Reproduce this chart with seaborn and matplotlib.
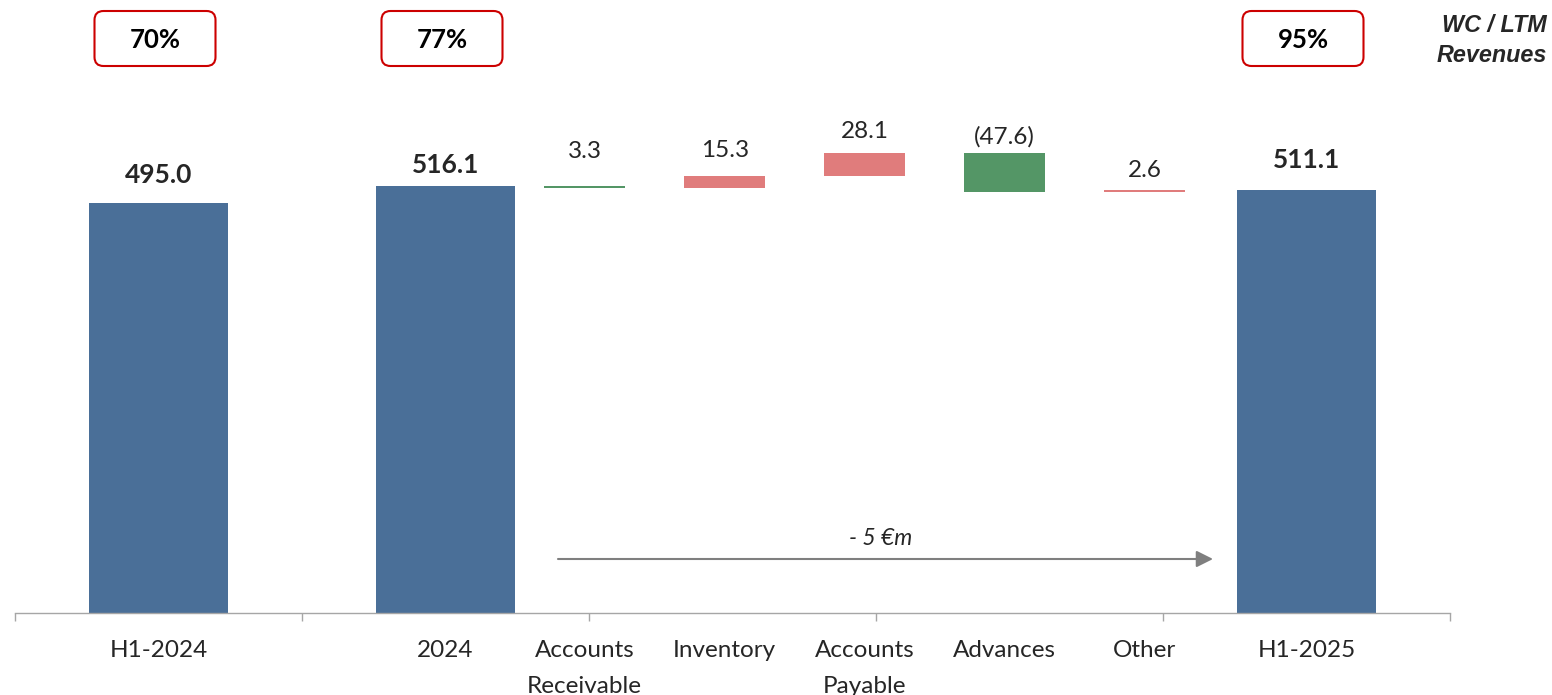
import numpy as np
import pandas as pd
import matplotlib
matplotlib.use("Agg")
import matplotlib.pyplot as plt
from matplotlib.patches import FancyBboxPatch
from matplotlib.transforms import Affine2D
from matplotlib.ticker import NullFormatter
import seaborn as sns

# ---------------- data ----------------
total_names = ["H1-2024", "2024", "H1-2025"]
total_values = [495.0, 516.1, 511.1]
total_ratio = ["70%", "77%", "95%"]

delta_names = ["Accounts\nReceivable", "Inventory", "Accounts\nPayable", "Advances", "Other"]
delta_values = [-3.3, 15.3, 28.1, -47.6, 2.6]
delta_texts = ["3.3", "15.3", "28.1", "(47.6)", "2.6"]

bridge_note = "- 5 €m"
ratio_title = ["WC / LTM", "Revenues"]

# ---------------- layout / style ----------------
W, H = 1552, 695
BLUE = "#4A6F98"
RED = "#E07C7C"
GREEN = "#549666"
TXT = "#262626"
AXC = "#A6A6A6"
BOXC = "#CC0000"

sns.set_theme(style="white")
plt.rcParams["font.family"] = ["Lato", "DejaVu Sans"]

fig = plt.figure(figsize=(W / 100, H / 100), dpi=100)
ax = fig.add_axes([15 / W, 82.5 / H, 1435 / W, 612.5 / H])
px = Affine2D().scale(1 / W, -1 / H).translate(0, 1) + fig.transFigure

total_pos = np.array([1.0, 3.0, 9.0])
delta_pos = 3.97 + 0.9755 * np.arange(len(delta_values))

# totals
tot_df = pd.DataFrame({"pos": total_pos, "value": total_values})
sns.barplot(data=tot_df, x="pos", y="value", native_scale=True, orient="x",
            color=BLUE, width=0.9756 / 2, errorbar=None, linewidth=0,
            saturation=1, ax=ax)

# floating deltas
d = np.array(delta_values)
before = total_values[1] + np.concatenate([[0], np.cumsum(d)[:-1]])
after = before + d
bottoms = np.minimum(before, after)
tops = np.maximum(before, after)
heights = np.abs(d)
n0 = len(ax.patches)
dd = pd.DataFrame({"pos": delta_pos, "h": heights})
sns.barplot(data=dd, x="pos", y="h", native_scale=True, orient="x",
            color=RED, width=0.5645 / 0.9755, errorbar=None, linewidth=0,
            saturation=1, bottom=bottoms, ax=ax)
for p, v in zip(ax.patches[n0:], d):
    p.set_facecolor(GREEN if v < 0 else RED)

ax.set_xlim(0, 10)
ax.set_ylim(0, 612.5 / 0.827)

# axis styling
ax.set_xlabel("")
ax.set_ylabel("")
ax.set_yticks([])
sns.despine(ax=ax, left=True)
ax.spines["bottom"].set_color(AXC)
ax.spines["bottom"].set_linewidth(1.0)
ax.set_xticks(np.arange(0, 11, 2))
ax.xaxis.set_major_formatter(NullFormatter())
ax.tick_params(axis="x", which="major", bottom=True, length=6, width=1.0,
               color=AXC, direction="out")
label_pos = np.concatenate([total_pos[:2], delta_pos, total_pos[2:]])
label_names = total_names[:2] + delta_names + total_names[2:]
ax.set_xticks(label_pos, label_names, minor=True)
ax.tick_params(axis="x", which="minor", bottom=True, length=0, pad=19.5,
               labelsize=17.5, labelcolor=TXT)
for t in ax.get_xticklabels(minor=True):
    t.set_linespacing(1.9)

# value labels
for x, v, off in zip(total_pos, total_values, [20, 13, 22]):
    ax.annotate(f"{v:.1f}", (x, v), xytext=(0, off), textcoords="offset pixels",
                ha="center", va="baseline", fontsize=19, fontweight="bold",
                color=TXT)
for x, top, s, off in zip(delta_pos, tops, delta_texts, [28, 19, 15, 9, 13]):
    ax.annotate(s, (x, top), xytext=(0, off), textcoords="offset pixels",
                ha="center", va="baseline", fontsize=17.5, color=TXT)

# ratio boxes
for x, r in zip(total_pos, total_ratio):
    cx = ax.transData.transform((x, 0))[0] - 3.5
    box = FancyBboxPatch((cx - 60.5, 11), 121, 55,
                         boxstyle="round,pad=0,rounding_size=9",
                         transform=px, facecolor="white", edgecolor=BOXC,
                         linewidth=1.5)
    fig.add_artist(box)
    fig.text(cx, 48.5, r, transform=px, ha="center", va="baseline",
             fontsize=18.5, fontweight="bold", color="black")

for line, yb in zip(ratio_title, [32, 61.7]):
    fig.text(1547, yb, line, transform=px, ha="right", va="baseline",
             fontsize=16.8, fontweight="bold", fontstyle="italic",
             family=["Liberation Sans", "DejaVu Sans"], color=TXT)

# bridge arrow
ax.annotate("", xy=(1213, 559), xytext=(558, 559), xycoords=px, textcoords=px,
            arrowprops=dict(arrowstyle="-|>,head_length=0.4,head_width=0.2",
                            color="#7F7F7F", lw=1.5, mutation_scale=25,
                            shrinkA=0, shrinkB=0))
fig.text(881, 545, bridge_note, transform=px, ha="center", va="baseline",
         fontsize=16.5, fontstyle="italic", color=TXT)

fig.savefig("out.png", dpi=100)
